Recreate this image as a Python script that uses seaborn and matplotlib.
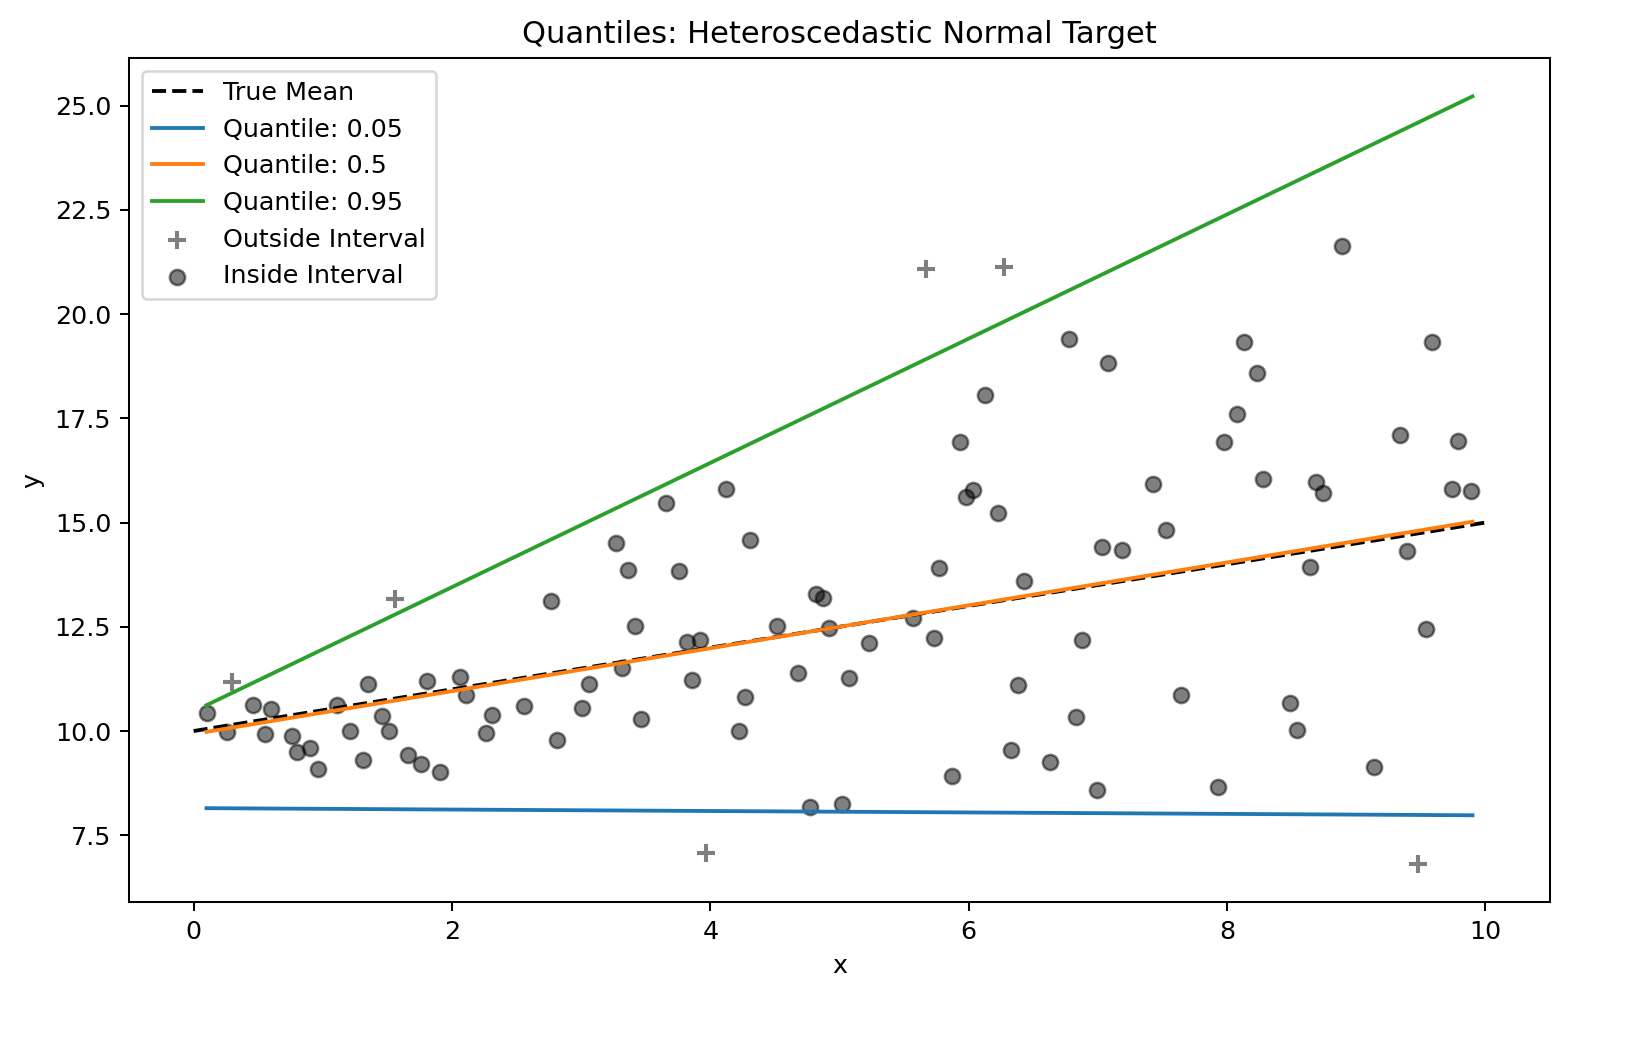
import numpy as np
import pandas as pd
import matplotlib
matplotlib.use("Agg")
import matplotlib.pyplot as plt
import seaborn as sns

# ---- data ----
x_inside = [0.10, 0.26, 0.46, 0.55, 0.60, 0.76, 0.80, 0.90, 0.96, 1.11,
            1.21, 1.31, 1.35, 1.46, 1.51, 1.66, 1.76, 1.81, 1.91, 2.06,
            2.11, 2.26, 2.31, 2.56, 2.77, 2.81, 3.01, 3.06, 3.27, 3.32,
            3.36, 3.42, 3.46, 3.66, 3.76, 3.82, 3.86, 3.92, 4.12, 4.22,
            4.27, 4.31, 4.52, 4.68, 4.77, 4.82, 4.87, 4.92, 5.02, 5.07,
            5.23, 5.57, 5.73, 5.77, 5.87, 5.93, 5.98, 6.03, 6.13, 6.23,
            6.33, 6.38, 6.43, 6.63, 6.78, 6.83, 6.88, 6.99, 7.03, 7.08,
            7.19, 7.43, 7.53, 7.64, 7.93, 7.98, 8.08, 8.13, 8.23, 8.28,
            8.49, 8.54, 8.64, 8.69, 8.74, 8.89, 9.14, 9.34, 9.39, 9.54,
            9.59, 9.74, 9.79, 9.89]
y_inside = [10.43, 9.98, 10.62, 9.93, 10.53, 9.88, 9.50, 9.59, 9.09, 10.62,
            10.00, 9.31, 11.12, 10.36, 10.00, 9.43, 9.21, 11.20, 9.02, 11.29,
            10.86, 9.95, 10.38, 10.60, 13.13, 9.78, 10.55, 11.12, 14.52, 11.51,
            13.85, 12.51, 10.29, 15.47, 13.83, 12.13, 11.22, 12.18, 15.81, 10.00,
            10.81, 14.59, 12.51, 11.39, 8.18, 13.28, 13.20, 12.46, 8.25, 11.27,
            12.10, 12.70, 12.22, 13.92, 8.92, 16.93, 15.62, 15.79, 18.06, 15.24,
            9.55, 11.10, 13.59, 9.26, 19.40, 10.33, 12.18, 8.59, 14.42, 18.82,
            14.35, 15.93, 14.81, 10.86, 8.66, 16.93, 17.60, 19.32, 18.58, 16.05,
            10.67, 10.02, 13.94, 15.98, 15.71, 21.62, 9.14, 17.10, 14.31, 12.44,
            19.32, 15.81, 16.96, 15.76]

x_outside = [0.30, 1.56, 3.97, 5.67, 6.27, 9.48]
y_outside = [11.17, 13.16, 7.08, 21.07, 21.12, 6.82]

mean_x = [0.0, 10.0]
mean_y = [10.0, 15.0]

quant_x = [0.10, 9.90]
q05_y = [8.15, 7.98]
q50_y = [9.98, 15.02]
q95_y = [10.62, 25.22]

quant_labels = ["Quantile: 0.05", "Quantile: 0.5", "Quantile: 0.95"]
quant_colors = ["#1f77b4", "#ff7f0e", "#2ca02c"]

# ---- figure ----
DPI = 183
W, H = 1641, 1046
fig = plt.figure(figsize=(W / DPI, H / DPI), dpi=DPI)
ax = fig.add_axes([129 / W, 1 - 902 / H, (1550 - 129) / W, (902 - 58) / H])

sns.lineplot(x=mean_x, y=mean_y, ax=ax, color="black", linestyle="--",
             linewidth=1.5, label="True Mean", estimator=None)
for qy, lab, col in zip([q05_y, q50_y, q95_y], quant_labels, quant_colors):
    sns.lineplot(x=quant_x, y=qy, ax=ax, color=col, linewidth=1.5,
                 label=lab, estimator=None)

sns.scatterplot(x=x_outside, y=y_outside, ax=ax, marker="+", color="black",
                alpha=0.5, s=48, linewidth=1.6, label="Outside Interval")
sns.scatterplot(x=x_inside, y=y_inside, ax=ax, marker="o", color="black",
                alpha=0.5, s=36, edgecolor="black", linewidth=1.0,
                label="Inside Interval")

ax.set_title("Quantiles: Heteroscedastic Normal Target", fontsize=12)
ax.set_xlabel("x")
ax.set_ylabel("y")
ax.set_xticks([0, 2, 4, 6, 8, 10])
ax.set_yticks([7.5, 10.0, 12.5, 15.0, 17.5, 20.0, 22.5, 25.0])
ax.legend(loc="upper left")

fig.savefig("out.png", dpi=DPI)
